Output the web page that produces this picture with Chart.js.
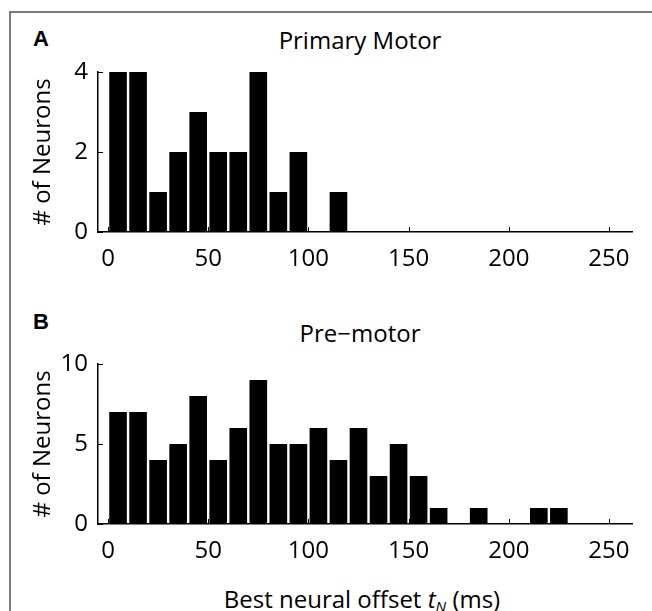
<!DOCTYPE html>
<html>
<head>
<meta charset="utf-8">
<script src="https://cdn.jsdelivr.net/npm/chart.js@4"></script>
<style>
  body { margin: 0; width: 652px; height: 611px; overflow: hidden; position: relative; background: #fff; font-family: 'Open Sans', sans-serif; color: #000; }
  .frame { position: absolute; left: 9px; top: 11px; width: 700px; height: 700px; border-top: 2px solid #7a7a7a; border-left: 2px solid #7a7a7a; }
  .panel { position: absolute; left: 0; width: 652px; }
  .letter { position: absolute; font: bold 22px 'Liberation Sans', Arial, sans-serif; line-height: 24px; }
  .title { position: absolute; left: 200px; width: 320px; text-align: center; font-size: 24px; line-height: 30px; }
  .xtitle { position: absolute; left: 162px; width: 400px; top: 584px; text-align: center; font-size: 24px; line-height: 30px; white-space: nowrap; }
  .xtitle sub { font-size: 15px; vertical-align: -4px; line-height: 0; }
</style>
</head>
<body>
<div class="frame"></div>
<div class="letter" style="left:33px; top:27px;">A</div>
<div class="letter" style="left:33px; top:310px;">B</div>
<div class="title" style="top:25px;">Primary Motor</div>
<div class="title" style="top:318px;">Pre&minus;motor</div>
<div class="panel" style="top:0;"><canvas id="chartA" width="652" height="280"></canvas></div>
<div class="panel" style="top:280px;"><canvas id="chartB" width="652" height="292"></canvas></div>
<div class="xtitle">Best neural offset <i>t</i><sub><i>N</i></sub> (ms)</div>

<script>
// bin centres (ms) and neuron counts per 10 ms bin
const binsA = [5, 15, 25, 35, 45, 55, 65, 75, 85, 95, 105, 115];
const countsA = [4, 4, 1, 2, 3, 2, 2, 4, 1, 2, 0, 1];

const binsB = [5, 15, 25, 35, 45, 55, 65, 75, 85, 95, 105, 115, 125, 135, 145, 155, 165, 175, 185, 195, 205, 215, 225];
const countsB = [7, 7, 4, 5, 8, 4, 6, 9, 5, 5, 6, 4, 6, 3, 5, 3, 1, 0, 1, 0, 0, 1, 1];

const xTicks = [0, 50, 100, 150, 200, 250];
const yTicksA = [0, 2, 4];
const yTicksB = [0, 5, 10];

// matlab style ticks pointing into the plot
const inwardTicks = {
    id: 'inwardTicks',
    beforeDatasetsDraw(chart) {
        const { ctx, chartArea, scales: { x, y } } = chart;
        ctx.save();
        ctx.strokeStyle = '#000';
        ctx.lineWidth = 1;
        ctx.beginPath();
        x.ticks.forEach(t => {
            const px = Math.round(x.getPixelForValue(t.value)) + 0.5;
            ctx.moveTo(px, chartArea.bottom);
            ctx.lineTo(px, chartArea.bottom - 5);
        });
        y.ticks.forEach(t => {
            const py = Math.round(y.getPixelForValue(t.value)) + 0.5;
            ctx.moveTo(chartArea.left, py);
            ctx.lineTo(chartArea.left + 5, py);
        });
        ctx.stroke();
        ctx.restore();
    }
};

function drawHist(canvasId, bins, counts, yTicks, padTop) {
    const ctx = document.getElementById(canvasId).getContext('2d');
    new Chart(ctx, {
        type: 'bar',
        data: {
            datasets: [{
                data: bins.map((b, i) => ({ x: b, y: counts[i] })),
                backgroundColor: '#000',
                borderWidth: 0,
                barPercentage: 0.88,
                categoryPercentage: 1.0
            }]
        },
        options: {
            responsive: false,
            animation: false,
            devicePixelRatio: 1,
            layout: { padding: { top: padTop, right: 20, bottom: 0, left: 0 } },
            plugins: {
                legend: { display: false },
                tooltip: { enabled: false }
            },
            scales: {
                x: {
                    type: 'linear',
                    offset: false,
                    min: -5,
                    max: 261.5,
                    afterBuildTicks: s => { s.ticks = xTicks.map(v => ({ value: v })); },
                    afterFit: s => { s.height = 48; },
                    grid: { display: true, drawOnChartArea: false, drawTicks: false },
                    border: { display: true, color: '#000', width: 1.5 },
                    ticks: {
                        padding: 13,
                        color: '#000',
                        maxRotation: 0,
                        autoSkip: false,
                        font: { family: 'Open Sans', size: 24 }
                    }
                },
                y: {
                    min: yTicks[0],
                    max: yTicks[yTicks.length - 1],
                    afterBuildTicks: s => { s.ticks = yTicks.map(v => ({ value: v })); },
                    afterFit: s => { s.width = 98; },
                    grid: { display: true, drawOnChartArea: false, drawTicks: false },
                    border: { display: true, color: '#000', width: 1.5 },
                    ticks: {
                        padding: 10,
                        color: '#000',
                        font: { family: 'Open Sans', size: 24 }
                    },
                    title: {
                        display: true,
                        text: '# of Neurons',
                        color: '#000',
                        padding: { top: 29, bottom: 0 },
                        font: { family: 'Open Sans', size: 24 }
                    }
                }
            }
        },
        plugins: [inwardTicks]
    });
}

drawHist('chartA', binsA, countsA, yTicksA, 72);
drawHist('chartB', binsB, countsB, yTicksB, 84);
</script>
</body>
</html>
